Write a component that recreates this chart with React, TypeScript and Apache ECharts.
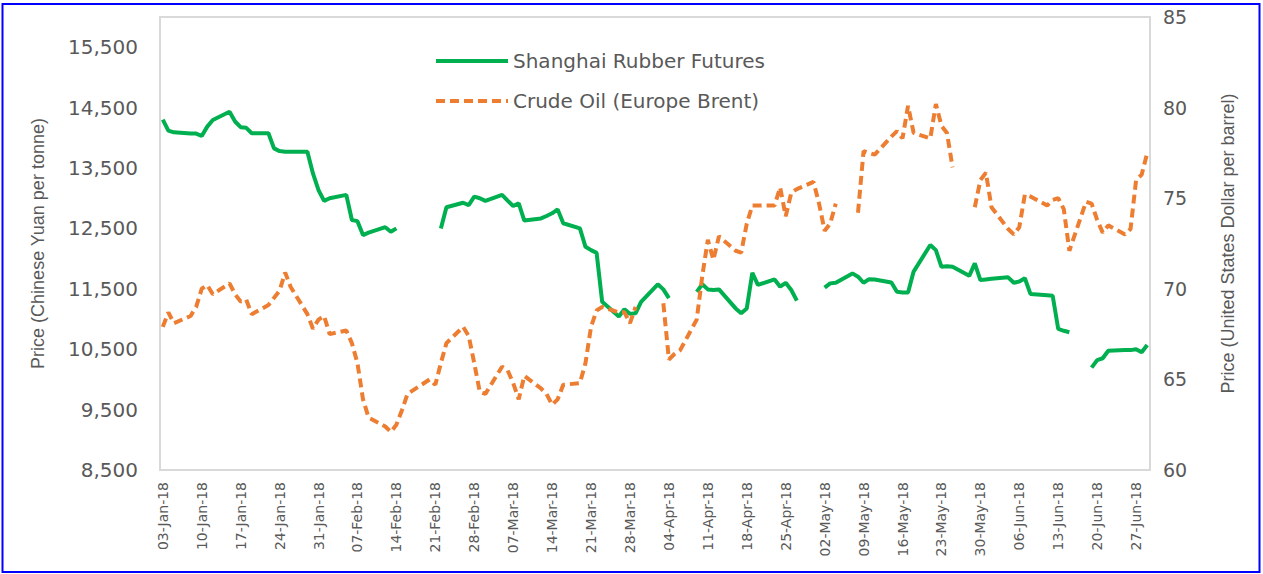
import React, { useEffect, useRef } from "react";
import * as echarts from "echarts";

// ---- Data ----
const MONTHS = ["Jan", "Feb", "Mar", "Apr", "May", "Jun"];
const START = Date.UTC(2018, 0, 3);
const END = Date.UTC(2018, 5, 29);
const DAY = 86400000;

// Shanghai rubber futures (CNY / tonne); null = no trading (gap in line)
const rubberDates = [
  "01-03","01-04","01-05","01-08","01-09","01-10","01-11","01-12","01-15","01-16","01-17","01-18","01-19",
  "01-22","01-23","01-24","01-25","01-26","01-29","01-30","01-31","02-01","02-02","02-05","02-06","02-07",
  "02-08","02-09","02-12","02-13","02-14","02-15","02-22","02-23","02-26","02-27","02-28","03-01","03-02",
  "03-05","03-06","03-07","03-08","03-09","03-12","03-13","03-14","03-15","03-16","03-19","03-20","03-21",
  "03-22","03-23","03-26","03-27","03-28","03-29","03-30","04-02","04-03","04-04","04-05","04-09","04-10",
  "04-11","04-12","04-13","04-16","04-17","04-18","04-19","04-20","04-23","04-24","04-25","04-26","04-27",
  "04-30","05-02","05-03","05-04","05-07","05-08","05-09","05-10","05-11","05-14","05-15","05-16","05-17",
  "05-18","05-21","05-22","05-23","05-24","05-25","05-28","05-29","05-30","05-31","06-01","06-04","06-05",
  "06-06","06-07","06-08","06-11","06-12","06-13","06-14","06-15","06-18","06-19","06-20","06-21","06-22",
  "06-25","06-26","06-27","06-28","06-29",
];
const rubberPrices = [
  14300,14120,14090,14070,14070,14030,14185,14295,14430,14270,14175,14165,14075,
  14075,13825,13780,13770,13770,13770,13410,13135,12955,13000,13055,12640,12620,
  12390,12430,12520,12445,12500,null,12500,12850,12925,12885,13025,13000,12955,
  13055,12960,12870,12915,12630,12665,12705,12750,12815,12585,12500,12195,12140,
  12095,11285,11040,11160,11085,11095,11285,11575,11490,11345,null,11450,11575,
  11490,11480,11490,11175,11095,11175,11765,11565,11655,11535,11600,11480,11305,
  null,11520,11590,11600,11755,11700,11600,11660,11655,11605,11450,11440,11440,
  11785,12225,12140,11865,11875,11865,11715,11920,11645,11655,11665,11690,11600,
  11620,11675,11415,11395,11385,10835,10805,10780,null,10195,10320,10350,10475,
  10485,10485,10500,10450,10570,
];

// Crude oil, Europe Brent (USD / barrel); null = no quote (gap in line)
const brentDates = [
  "01-03","01-04","01-05","01-08","01-09","01-10","01-11","01-12","01-15","01-16","01-17","01-18","01-19",
  "01-22","01-23","01-24","01-25","01-26","01-29","01-30","01-31","02-01","02-02","02-05","02-06","02-07",
  "02-08","02-09","02-12","02-13","02-14","02-15","02-16","02-19","02-20","02-21","02-22","02-23","02-26",
  "02-27","02-28","03-01","03-02","03-05","03-06","03-07","03-08","03-09","03-12","03-13","03-14","03-15",
  "03-16","03-19","03-20","03-21","03-22","03-23","03-26","03-27","03-28","03-29","03-30","04-03","04-04",
  "04-05","04-06","04-09","04-10","04-11","04-12","04-13","04-16","04-17","04-18","04-19","04-20","04-23",
  "04-24","04-25","04-26","04-27","04-30","05-01","05-02","05-03","05-04","05-07","05-08","05-09","05-10",
  "05-11","05-14","05-15","05-16","05-17","05-18","05-21","05-22","05-23","05-24","05-25","05-28","05-29",
  "05-30","05-31","06-01","06-04","06-05","06-06","06-07","06-08","06-11","06-12","06-13","06-14","06-15",
  "06-18","06-19","06-20","06-21","06-22","06-25","06-26","06-27","06-28","06-29",
];
const brentPrices = [
  67.9,68.7,68.1,68.5,69.0,70.0,70.2,69.7,70.3,69.7,69.3,69.4,68.6,
  69.1,69.5,69.9,70.9,70.1,68.6,67.8,68.3,68.5,67.5,67.7,67.0,65.9,
  63.9,62.9,62.4,62.1,62.5,63.3,64.2,64.8,65.0,64.7,65.9,67.0,67.9,
  67.4,65.9,64.3,64.2,65.7,65.5,64.8,63.9,65.2,64.5,64.2,63.6,63.9,
  64.7,64.8,65.9,67.9,68.8,69.0,68.7,68.7,68.1,69.0,null,69.2,66.1,
  66.4,66.6,68.3,70.7,72.7,71.6,72.9,72.1,72.0,73.6,74.6,74.6,74.6,
  75.6,74.0,75.3,75.5,75.9,74.7,73.2,73.6,74.7,null,74.2,77.6,77.5,
  77.4,78.4,78.7,78.3,80.1,78.6,78.3,80.2,79.0,78.6,76.7,null,74.5,
  76.0,76.4,74.5,73.3,73.0,73.4,75.2,75.1,74.6,74.9,75.0,74.4,72.1,
  74.8,74.7,73.8,73.1,73.5,73.0,73.3,76.0,76.3,77.5,
];

const SERIES_RUBBER = "Shanghai Rubber Futures";
const SERIES_BRENT = "Crude Oil (Europe Brent)";
const LEFT_TITLE = "Price (Chinese Yuan per tonne)";
const RIGHT_TITLE = "Price (United States Dollar per barrel)";

// calendar-day categories for the date axis
const calendarDays: string[] = [];
for (let t = START; t <= END; t += DAY) {
  const d = new Date(t);
  const dd = String(d.getUTCDate()).padStart(2, "0");
  calendarDays.push(`${dd}-${MONTHS[d.getUTCMonth()]}-18`);
}
const dayIndex = (md: string) => {
  const [m, d] = md.split("-").map(Number);
  return Math.round((Date.UTC(2018, m - 1, d) - START) / DAY);
};

const TEXT = "#595959";

export default function App() {
  const ref = useRef<HTMLDivElement>(null);
  useEffect(() => {
    document.body.style.margin = "0";
    if (!ref.current) return;
    const chart = echarts.init(ref.current, undefined, { renderer: "svg" });
    chart.setOption({
      animation: false,
      backgroundColor: "#ffffff",
      grid: {
        left: 160,
        right: 113,
        top: 17,
        bottom: 104,
        show: true,
        borderColor: "#d9d9d9",
        borderWidth: 2,
        backgroundColor: "transparent",
      },
      legend: {
        orient: "vertical",
        left: 429,
        top: 46,
        itemWidth: 72,
        itemHeight: 22,
        itemGap: 20,
        lineStyle: { width: 4 },
        itemStyle: { color: "transparent", borderColor: "transparent", borderWidth: 0, opacity: 0 },
        textStyle: { fontSize: 20, color: TEXT, fontFamily: "DejaVu Sans" },
        data: [SERIES_RUBBER, SERIES_BRENT],
      },
      xAxis: {
        type: "category",
        data: calendarDays,
        boundaryGap: true,
        axisLine: { show: false },
        axisTick: { show: false },
        splitLine: { show: false },
        axisLabel: {
          interval: 6,
          rotate: 90,
          margin: 12,
          fontSize: 14,
          color: TEXT,
          fontFamily: "DejaVu Sans",
        },
      },
      yAxis: [
        {
          type: "value",
          position: "left",
          min: 8500,
          max: 16000,
          interval: 1000,
          axisLine: { show: false },
          axisTick: { show: false },
          splitLine: { show: false },
          axisLabel: {
            showMaxLabel: false,
            margin: 22,
            fontSize: 20,
            color: TEXT,
            fontFamily: "DejaVu Sans",
            formatter: (v: number) => v.toLocaleString("en-US"),
          },
          name: LEFT_TITLE,
          nameLocation: "middle",
          nameRotate: 90,
          nameGap: 113,
          nameTextStyle: { fontSize: 18, color: TEXT, fontFamily: "Liberation Sans" },
        },
        {
          type: "value",
          position: "right",
          min: 60,
          max: 85,
          interval: 5,
          axisLine: { show: false },
          axisTick: { show: false },
          splitLine: { show: false },
          axisLabel: {
            margin: 13,
            fontSize: 19,
            color: TEXT,
            fontFamily: "DejaVu Sans",
          },
          name: RIGHT_TITLE,
          nameLocation: "middle",
          nameRotate: 90,
          nameGap: 69,
          nameTextStyle: { fontSize: 18, color: TEXT, fontFamily: "Liberation Sans" },
        },
      ],
      series: [
        {
          name: SERIES_RUBBER,
          type: "line",
          yAxisIndex: 0,
          symbol: "none",
          connectNulls: false,
          data: rubberDates.map((d, i) => [dayIndex(d), rubberPrices[i]]),
          lineStyle: { color: "#00B050", width: 4 },
          itemStyle: { color: "#00B050" },
        },
        {
          name: SERIES_BRENT,
          type: "line",
          yAxisIndex: 1,
          symbol: "none",
          connectNulls: false,
          data: brentDates.map((d, i) => [dayIndex(d), brentPrices[i]]),
          lineStyle: { color: "#ED7D31", width: 4, type: [9, 5] },
          itemStyle: { color: "#ED7D31" },
        },
      ],
      graphic: [
        {
          type: "rect",
          shape: { x: 2.5, y: 4, width: 1257, height: 568 },
          style: { fill: "none", stroke: "#0000ff", lineWidth: 2 },
          silent: true,
        },
      ],
    });
    return () => chart.dispose();
  }, []);
  return <div ref={ref} style={{ width: 1263, height: 574 }} />;
}
